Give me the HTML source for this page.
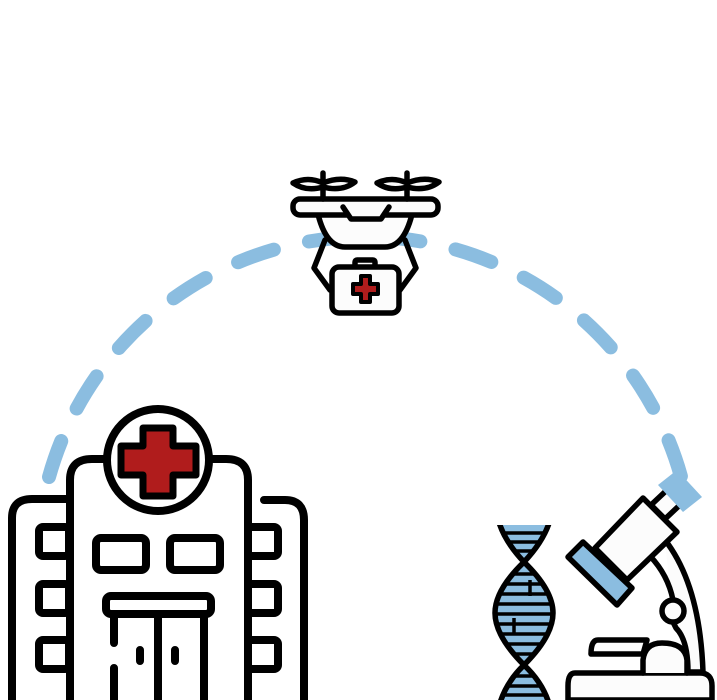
<!DOCTYPE html>
<html><head><meta charset="utf-8"><style>html,body{margin:0;padding:0;background:#fff;width:717px;height:700px;overflow:hidden}svg{display:block}</style></head>
<body>
<svg width="717" height="700" viewBox="0 0 717 700" xmlns="http://www.w3.org/2000/svg">
<!-- dashed arc -->
<path d="M49,477 A328,328 0 0 1 686,497" fill="none" stroke="#8bbde0" stroke-width="14" stroke-linecap="round" stroke-dasharray="38 36"/>

<!-- Drone -->
<g stroke="#000" stroke-width="5.5" stroke-linecap="round" stroke-linejoin="round" fill="#fcfcfc">
  <path d="M317,210 Q325,247 345,247 L385,247 Q405,247 413,210" />
  <path d="M325,240 L314,268 L330,290 M405,240 L416,268 L400,290" fill="none"/>
  <rect x="293" y="199" width="145" height="16" rx="7"/>
  <path d="M343,207 L351,219 L381,219 L389,207" fill="#fcfcfc"/>
  <line x1="323" y1="173" x2="323" y2="199"/><line x1="407" y1="173" x2="407" y2="199"/>
  <path d="M293,183 Q308,176 323,183 Q340,176 355,182 Q342,192 323,187 Q306,192 293,183Z" fill="#fcfcfc"/>
  <path d="M377,183 Q392,176 407,183 Q424,176 439,182 Q426,192 407,187 Q390,192 377,183Z" fill="#fcfcfc"/>
  <rect x="355" y="260" width="20" height="8" rx="2"/>
  <rect x="332" y="267" width="67" height="46" rx="7"/>
  <path d="M361,276 h9 v8 h8 v10 h-8 v8 h-9 v-8 h-8 v-10 h8z" fill="#b01c1c" stroke-width="4"/>
</g>

<!-- Hospital -->
<g stroke="#000" stroke-width="8" stroke-linecap="round" stroke-linejoin="round" fill="none">
  <path d="M12,700 V518 Q12,499 32,499 H68"/>
  <path d="M264,500 H285 Q304,500 304,520 V700"/>
  <path d="M70,700 V480 Q70,459 92,459 H105 M211,459 H226 Q248,459 248,480 V700"/>
  <circle cx="158" cy="460" r="51" fill="#fff"/>
  <path d="M143,428 h30 v18 h23 v29 h-23 v21 h-30 v-21 h-22 v-29 h22z" fill="#b01c1c" stroke-width="7"/>
  <rect x="39" y="527" width="30" height="29" rx="4"/>
  <rect x="39" y="584" width="30" height="29" rx="4"/>
  <rect x="39" y="640" width="30" height="29" rx="4"/>
  <rect x="248" y="527" width="30" height="29" rx="4"/>
  <rect x="248" y="584" width="30" height="29" rx="4"/>
  <rect x="248" y="640" width="30" height="29" rx="4"/>
  <rect x="96" y="538" width="50" height="32" rx="5"/>
  <rect x="170" y="538" width="50" height="32" rx="5"/>
  <rect x="106" y="596" width="105" height="18" rx="5"/>
  <path d="M114,614 V643 M114,668 V700 M158,614 V700 M204,614 V700"/>
  <path d="M140,650 V661 M175,650 V661"/>
</g>

<!-- DNA -->
<defs>
<clipPath id="dc"><rect x="480" y="525" width="90" height="175"/></clipPath>
<clipPath id="df"><path d="M497,490 Q490,526 524,562 Q553,590 553,613 Q553,636 524,665 Q492,696 497,740 L552,740 Q557,696 524,665 Q495,636 495,613 Q495,590 524,562 Q558,526 552,490Z"/></clipPath>
</defs>
<g clip-path="url(#dc)">
  <path d="M497,490 Q490,526 524,562 Q553,590 553,613 Q553,636 524,665 Q492,696 497,740 L552,740 Q557,696 524,665 Q495,636 495,613 Q495,590 524,562 Q558,526 552,490Z" fill="#8bbde0"/>
  <g stroke="#000" stroke-width="3.5" clip-path="url(#df)">
    <line x1="490" y1="533" x2="560" y2="533"/><line x1="490" y1="542" x2="560" y2="542"/><line x1="490" y1="551" x2="560" y2="551"/>
    <line x1="490" y1="574" x2="560" y2="574"/><line x1="490" y1="584" x2="560" y2="584"/><line x1="490" y1="594" x2="560" y2="594"/>
    <line x1="490" y1="604" x2="560" y2="604"/><line x1="490" y1="614" x2="560" y2="614"/><line x1="490" y1="624" x2="560" y2="624"/>
    <line x1="490" y1="634" x2="560" y2="634"/><line x1="490" y1="644" x2="560" y2="644"/><line x1="490" y1="654" x2="560" y2="654"/>
    <line x1="490" y1="676" x2="560" y2="676"/><line x1="490" y1="686" x2="560" y2="686"/><line x1="490" y1="695" x2="560" y2="695"/>
    <line x1="530" y1="580" x2="530" y2="596"/><line x1="514" y1="618" x2="514" y2="635"/>
  </g>
  <g fill="none" stroke="#000" stroke-width="5.5">
    <path d="M497,490 Q490,526 524,562 Q553,590 553,613 Q553,636 524,665 Q492,696 497,740"/>
    <path d="M552,490 Q558,526 524,562 Q495,590 495,613 Q495,636 524,665 Q557,696 552,740"/>
  </g>
</g>

<!-- Microscope -->
<g stroke="#000" stroke-width="5.5" stroke-linejoin="round" stroke-linecap="round">
  <path d="M665,540 Q700,585 703,672 L688,672 Q688,640 676,628 L673,622 M673,600 Q668,575 650,556" fill="#fcfcfc"/>
  <circle cx="673" cy="611" r="11" fill="#fcfcfc"/>
  <path d="M575,673 H700 Q712,673 712,686 V700 H568 V686 Q568,673 575,673Z" fill="#fcfcfc"/>
  <path d="M643,673 V660 Q645,643 662,643 Q685,643 687,660 V673" fill="#fcfcfc"/>
  <path d="M598,640 H647 L643,654 H591 Q591,640 598,640Z" fill="#fcfcfc"/>
  <polygon points="651,505 668,489 682,503 665,519" fill="#fcfcfc"/>
  <polygon points="643,498 677,532 627,580 595,548" fill="#fcfcfc"/>
  <polygon points="568,557 583,542 632,588 617,605" fill="#8bbde0"/>
  <polygon points="658,485 677,470 702,497 683,512" fill="#8bbde0" stroke="none"/>
</g>
</svg>
</body></html>
